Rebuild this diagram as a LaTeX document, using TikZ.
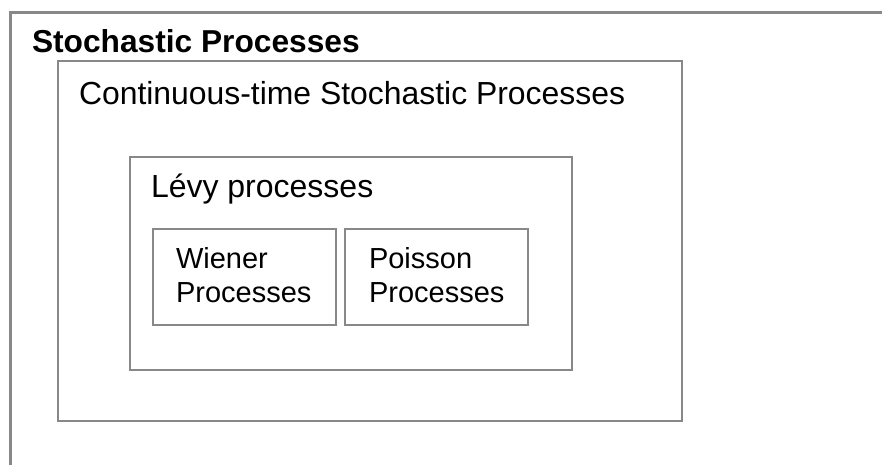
\documentclass[tikz,border=0pt]{standalone}
\usepackage{fontspec}
\setmainfont{Liberation Sans}
\definecolor{boxgray}{RGB}{136,136,136}
\begin{document}
\begin{tikzpicture}[x=1pt,y=-1pt,
  frame/.style={draw=boxgray},
  lbl/.style={anchor=base west, inner sep=0pt, outer sep=0pt, text=black},
  two/.style={lbl, align=left}]
\useasboundingbox (0,0) rectangle (882,464);
\clip (0,0) rectangle (882,464);
\fill[white] (0,0) rectangle (882,464);
% outer box (extends past the right and bottom edges)
\draw[frame, line width=3pt] (10,12) rectangle (900,480);
\node[lbl, font=\fontsize{31.7}{38}\selectfont\bfseries] (title) at (32,52) {Stochastic Processes};
% continuous-time
\draw[frame, line width=2pt] (58,61) rectangle (682,421);
\node[lbl, font=\fontsize{31.9}{38}\selectfont] (cont) at (79,104) {Continuous-time Stochastic Processes};
% Levy
\draw[frame, line width=1.7pt] (130,157) rectangle (572,370);
\node[lbl, font=\fontsize{32}{38}\selectfont] (levy) at (151,197) {Lévy processes};
% Wiener and Poisson
\draw[frame, line width=1.7pt] (153,229) rectangle (336,325);
\draw[frame, line width=1.7pt] (345,229) rectangle (528,325);
\node[two, font=\fontsize{29}{34}\selectfont] (wiener) at (176,302) {Wiener\\Processes};
\node[two, font=\fontsize{29}{34}\selectfont] (poisson) at (369,302) {Poisson\\Processes};
\end{tikzpicture}
\end{document}
